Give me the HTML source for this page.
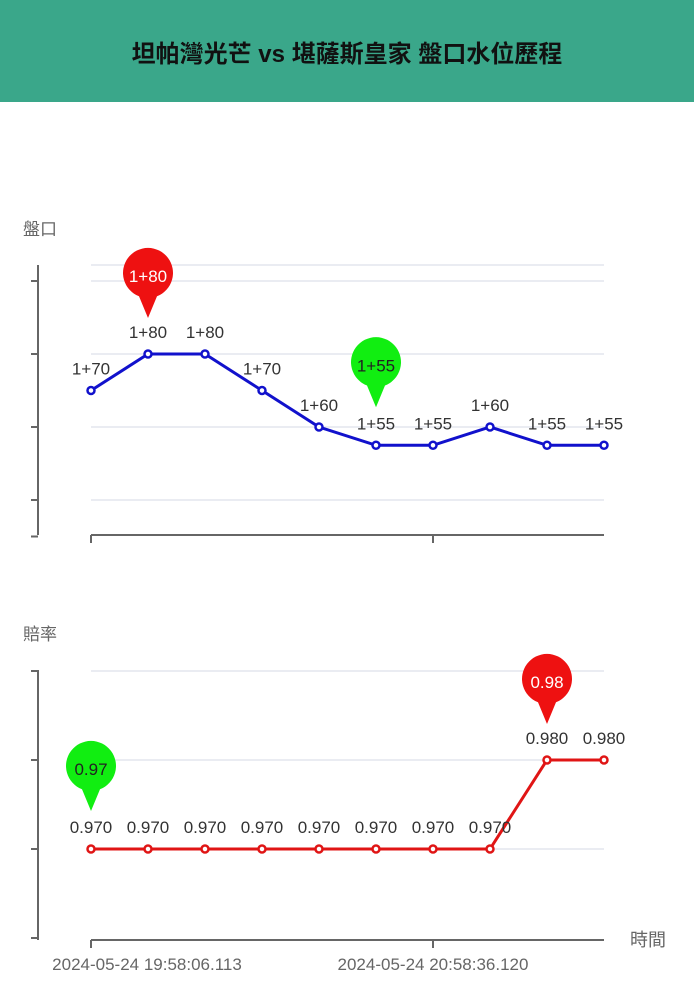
<!DOCTYPE html>
<html><head><meta charset="utf-8"><style>
body{margin:0;width:694px;height:1000px;background:#fff;overflow:hidden;font-family:"Liberation Sans","Noto Sans CJK TC",sans-serif}
.hdr{position:absolute;left:0;top:0;width:694px;height:102px;background:#3aa78a;display:flex;align-items:center;justify-content:center;font-weight:bold;font-size:24px;color:#111}
svg{position:absolute;left:0;top:0}
</style></head><body>
<div class="hdr">坦帕灣光芒 vs 堪薩斯皇家 盤口水位歷程</div>
<svg id="c" width="694" height="1000"></svg>
<script>
const categories=[0,1,2,3,4,5,6,7,8,9];
const handicapValues=[1.70,1.80,1.80,1.70,1.60,1.55,1.55,1.60,1.55,1.55];
const handicapLabels=["1+70","1+80","1+80","1+70","1+60","1+55","1+55","1+60","1+55","1+55"];
const oddsValues=[0.970,0.970,0.970,0.970,0.970,0.970,0.970,0.970,0.980,0.980];
const xTickLabels=["2024-05-24 19:58:06.113","2024-05-24 20:58:36.120"];
const xTickIdx=[0,6];
const topTicks=[2.0,1.8,1.6,1.4,1.3];
const botTicks=[0.99,0.98,0.97,0.96];

const svg=document.getElementById('c');const NS='http://www.w3.org/2000/svg';
function mk(t,a,p,name){const e=document.createElementNS(NS,t);for(const k in a)e.setAttribute(k,a[k]);


(p||svg).appendChild(e);return e;}
const xS=i=>91+i*57;
const yTop=v=>354+(1.80-v)*365;
const yBot=v=>849-(v-0.97)*8900;
function pin(cx,tipY,color,txt,tc,name){
 const r=25,cy=tipY-43;
 const d=`M${cx} ${tipY} L${cx-9} ${cy+r*0.85} A${r} ${r} 0 1 1 ${cx+9} ${cy+r*0.85} Z`;
 const g=mk('g',{},svg,name);
 mk('path',{d,fill:color},g,name+'-shape');
 const t=mk('text',{x:cx,y:cy+7,'text-anchor':'middle','font-size':17,fill:tc},g,name+'-label');t.textContent=txt;
}
function chart(vals,yF,ticks,grid,axisTop,axisBot,color,labels,name){
 grid.forEach(v=>mk('line',{x1:91,x2:604,y1:yF(v),y2:yF(v),stroke:'#e3e6ee','stroke-width':1.5},svg,name+'-gridline'));
 mk('line',{x1:38,x2:38,y1:axisTop,y2:axisBot,stroke:'#666','stroke-width':2},svg,name+'-y-axis');
 ticks.forEach(v=>mk('line',{x1:31,x2:38,y1:yF(v),y2:yF(v),stroke:'#666','stroke-width':2},svg,name+'-y-tick'));
 mk('line',{x1:91,x2:604,y1:axisBot,y2:axisBot,stroke:'#666','stroke-width':2},svg,name+'-x-axis');
 xTickIdx.forEach(i=>mk('line',{x1:xS(i),x2:xS(i),y1:axisBot,y2:axisBot+8,stroke:'#666','stroke-width':2},svg,name+'-x-tick'));
 mk('polyline',{points:vals.map((v,i)=>xS(i)+','+yF(v)).join(' '),fill:'none',stroke:color,'stroke-width':3},svg,name+'-line');
 vals.forEach((v,i)=>{
  mk('circle',{cx:xS(i),cy:yF(v),r:3.5,fill:'#fff',stroke:color,'stroke-width':2.5},svg,name+'-point');
  const t=mk('text',{x:xS(i),y:yF(v)-16,'text-anchor':'middle','font-size':17,fill:'#333'},svg,name+'-value-label');t.textContent=labels[i];
 });
}
mk('line',{x1:91,x2:604,y1:265,y2:265,stroke:'#e3e6ee','stroke-width':1.5},svg,'top-gridline');
chart(handicapValues,yTop,topTicks,[2.0,1.8,1.6,1.4],265,535,'#1111cc',handicapLabels,'handicap');
chart(oddsValues,yBot,botTicks,[0.99,0.98,0.97],670,940,'#e01515',oddsValues.map(v=>v.toFixed(3)),'odds');
// pins: max/min
function pins(vals,yF,fmt,name){
 const mx=Math.max(...vals),mn=Math.min(...vals);
 const iMax=vals.indexOf(mx),iMin=vals.indexOf(mn);
 pin(xS(iMax),yF(mx)-36,'#ee1111',fmt(mx),'#fff',name+'-max-pin');
 pin(xS(iMin),yF(mn)-38,'#11ee11',fmt(mn),'#222',name+'-min-pin');
}
pins(handicapValues,yTop,v=>handicapLabels[handicapValues.indexOf(v)],'handicap');
pins(oddsValues,yBot,v=>v.toFixed(2),'odds');
function txt(x,y,s,anchor,name,size){const t=mk('text',{x,y,'text-anchor':anchor,'font-size':size||17,fill:'#666'},svg,name);t.textContent=s;}
txt(57,235,'盤口','end','y-axis-title-handicap');
txt(57,640,'賠率','end','y-axis-title-odds');
txt(630,946,'時間','start','x-axis-title',18);
xTickIdx.forEach((idx,k)=>txt(k==0?xS(0)+56:433,970,xTickLabels[k],'middle','x-tick-label'));
</script>
</body></html>
